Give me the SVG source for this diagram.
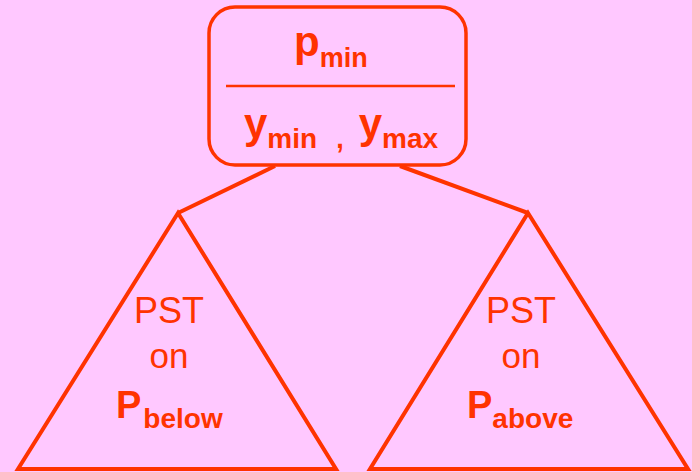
<svg xmlns="http://www.w3.org/2000/svg" width="692" height="472" viewBox="0 0 692 472">
<style>
.s{fill:none;stroke:#FF3300;stroke-linejoin:miter}
.t{fill:#FF3300;font-family:"Liberation Sans",Arial,sans-serif}
.b{font-weight:bold}
</style>
<rect width="692" height="472" fill="#FFC8FF"/>
<g id="connectors">
<line class="s" stroke-width="4" x1="275" y1="166" x2="178" y2="213"/>
<line class="s" stroke-width="4" x1="400" y1="166" x2="528" y2="213"/>
</g>
<g id="root">
<rect class="s" stroke-width="3.5" x="209" y="7" width="257" height="158" rx="26"/>
<line class="s" stroke-width="2.5" x1="226" y1="86" x2="455" y2="86"/>
<text class="t b" x="294" y="56" font-size="42">p<tspan font-size="27" dy="11">min</tspan></text>
<text class="t b" x="244" y="138" font-size="42">y<tspan font-size="28" dy="10">min</tspan><tspan font-size="27" dx="19">,</tspan><tspan font-size="42" dx="15" dy="-10">y</tspan><tspan font-size="28" dy="10">max</tspan></text>
</g>
<g id="left">
<polygon class="s" stroke-width="4" points="178,213 18,469 336,469"/>
<text class="t" x="169" y="323" font-size="36" text-anchor="middle">PST</text>
<text class="t" x="169" y="368" font-size="35" text-anchor="middle">on</text>
<text class="t b" x="116" y="418" font-size="38">P<tspan font-size="28" dx="2" dy="10">below</tspan></text>
</g>
<g id="right">
<polygon class="s" stroke-width="4" points="528,213 370,469 688,469"/>
<text class="t" x="521" y="323" font-size="36" text-anchor="middle">PST</text>
<text class="t" x="521" y="368" font-size="35" text-anchor="middle">on</text>
<text class="t b" x="467" y="418" font-size="38">P<tspan font-size="28" dy="10">above</tspan></text>
</g>
</svg>
